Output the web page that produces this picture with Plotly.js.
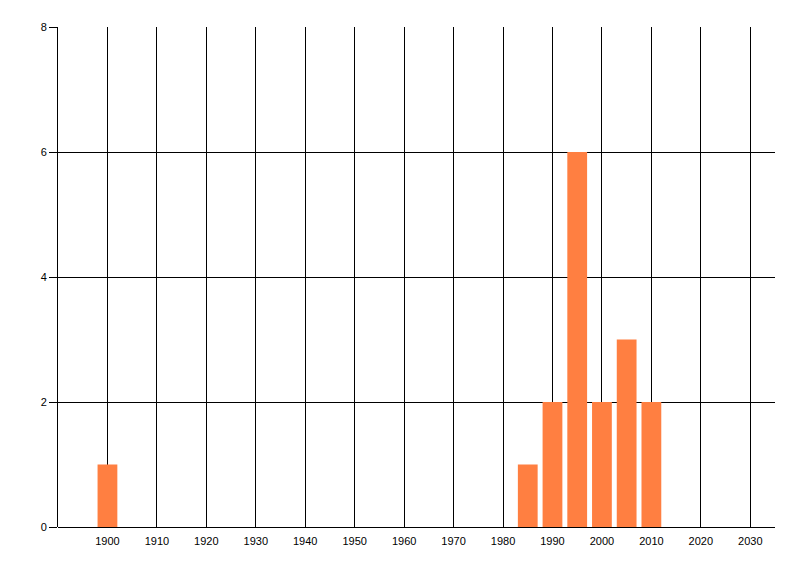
<!DOCTYPE html>
<html>
<head>
<meta charset="utf-8">
<script src="https://cdn.plot.ly/plotly-3.0.1.min.js"></script>
<style>html,body{margin:0;padding:0;background:#fff;}#chart{width:800px;height:576px;}</style>
</head>
<body>
<div id="chart"></div>
<script>
const years = [1900, 1985, 1990, 1995, 2000, 2005, 2010];
const counts = [1, 1, 2, 6, 2, 3, 2];
const xTickVals = [1900, 1910, 1920, 1930, 1940, 1950, 1960, 1970, 1980, 1990, 2000, 2010, 2020, 2030];
const xTickText = xTickVals.map(String);
const yTickVals = [0, 2, 4, 6, 8];

const trace = {
  type: 'bar',
  x: years,
  y: counts,
  width: 4,
  marker: {color: '#FF7F41', line: {width: 0}},
  hoverinfo: 'x+y'
};

const layout = {
  width: 800, height: 576,
  margin: {l: 58, r: 25, t: 27, b: 49, pad: 0},
  paper_bgcolor: '#ffffff',
  plot_bgcolor: '#ffffff',
  showlegend: false,
  font: {family: 'Liberation Sans, Arial, sans-serif', size: 11, color: '#000'},
  xaxis: {
    range: [1890, 2035],
    tickvals: xTickVals,
    ticktext: xTickText,
    showgrid: true, gridcolor: '#000', gridwidth: 1,
    zeroline: false,
    showline: false,
    ticks: '', ticklen: 0,
    ticklabelstandoff: 6,
    tickfont: {size: 11, color: '#000'}
  },
  yaxis: {
    range: [0, 8],
    tickvals: yTickVals,
    showgrid: true, gridcolor: '#000', gridwidth: 1,
    zeroline: true, zerolinecolor: '#000', zerolinewidth: 1,
    showline: true, linecolor: '#000', linewidth: 1,
    ticks: 'outside', ticklen: 8, tickcolor: '#000', tickwidth: 1,
    tickfont: {size: 11, color: '#000'}
  }
};

Plotly.newPlot('chart', [trace], layout, {displayModeBar: false, staticPlot: true});
</script>
</body>
</html>
